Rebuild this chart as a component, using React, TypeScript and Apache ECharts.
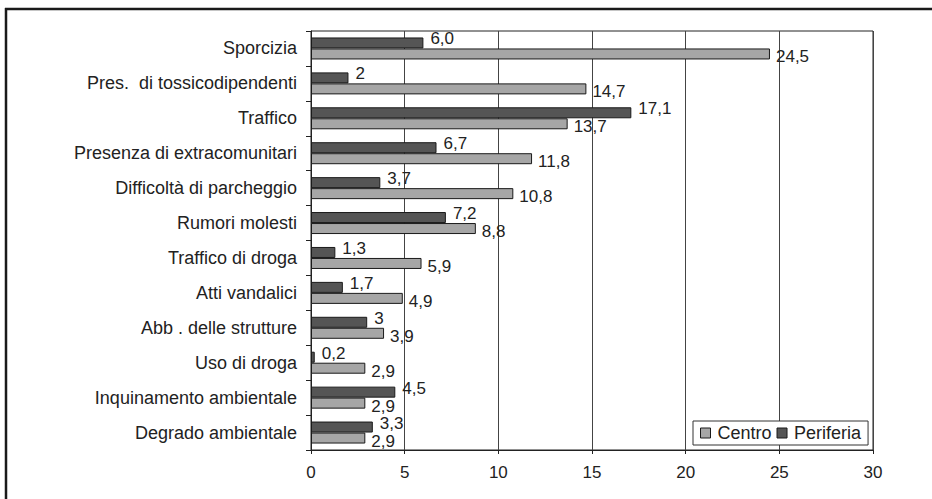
import React, { useEffect, useRef } from "react";
import * as echarts from "echarts";

const categories = [
  "Sporcizia",
  "Pres.  di tossicodipendenti",
  "Traffico",
  "Presenza di extracomunitari",
  "Difficoltà di parcheggio",
  "Rumori molesti",
  "Traffico di droga",
  "Atti vandalici",
  "Abb . delle strutture",
  "Uso di droga",
  "Inquinamento ambientale",
  "Degrado ambientale",
];
const centro = [24.5, 14.7, 13.7, 11.8, 10.8, 8.8, 5.9, 4.9, 3.9, 2.9, 2.9, 2.9];
const periferia = [6.0, 2, 17.1, 6.7, 3.7, 7.2, 1.3, 1.7, 3, 0.2, 4.5, 3.3];
const centroLabels = ["24,5", "14,7", "13,7", "11,8", "10,8", "8,8", "5,9", "4,9", "3,9", "2,9", "2,9", "2,9"];
const periferiaLabels = ["6,0", "2", "17,1", "6,7", "3,7", "7,2", "1,3", "1,7", "3", "0,2", "4,5", "3,3"];
const xTicks = [0, 5, 10, 15, 20, 25, 30];

const FONT = "Liberation Sans";

export default function App() {
  const ref = useRef<HTMLDivElement>(null);
  useEffect(() => {
    const chart = echarts.init(ref.current!, null, { renderer: "svg" });
    chart.setOption({
      animation: false,
      backgroundColor: "#ffffff",
      textStyle: { fontFamily: FONT },
      grid: {
        left: 311,
        right: 59,
        top: 31,
        bottom: 49,
        show: true,
        borderColor: "#222",
        borderWidth: 1,
      },
      legend: {
        data: ["Centro", "Periferia"],
        left: 693,
        top: 421,
        orient: "horizontal",
        backgroundColor: "#fff",
        borderColor: "#333",
        borderWidth: 1,
        padding: [3, 7, 3, 7],
        itemGap: 5,
        itemWidth: 10,
        itemHeight: 10,
        icon: "rect",
        itemStyle: { borderColor: "#1a1a1a", borderWidth: 1 },
        textStyle: { fontFamily: FONT, fontSize: 18, color: "#222", padding: [0, 0, 0, 2] },
      },
      xAxis: {
        type: "value",
        min: xTicks[0],
        max: xTicks[xTicks.length - 1],
        interval: 5,
        axisLine: { show: true, lineStyle: { color: "#222", width: 1 } },
        axisTick: { show: true, length: 4, lineStyle: { color: "#222" } },
        axisLabel: { fontFamily: FONT, fontSize: 17, color: "#222", margin: 14 },
        splitLine: { show: true, lineStyle: { color: "#444", width: 1 } },
      },
      yAxis: {
        type: "category",
        data: categories,
        inverse: true,
        axisLine: { show: true, lineStyle: { color: "#222", width: 1 } },
        axisTick: { show: true, length: 5, lineStyle: { color: "#222" } },
        axisLabel: { fontFamily: FONT, fontSize: 18, color: "#222", margin: 14 },
        splitLine: { show: false },
      },
      series: [
        {
          name: "Periferia",
          type: "bar",
          data: periferia,
          barWidth: 11,
          barGap: "0%",
          itemStyle: { color: "#555555", borderColor: "#1a1a1a", borderWidth: 1 },
          label: {
            show: true,
            position: "right",
            distance: 7,
            offset: [0, -4],
            fontFamily: FONT,
            fontSize: 17,
            color: "#222",
            formatter: (p: any) => periferiaLabels[p.dataIndex],
          },
        },
        {
          name: "Centro",
          type: "bar",
          data: centro,
          barWidth: 11,
          barGap: "0%",
          itemStyle: { color: "#a6a6a6", borderColor: "#1a1a1a", borderWidth: 1 },
          label: {
            show: true,
            position: "right",
            distance: 6,
            offset: [0, 3],
            fontFamily: FONT,
            fontSize: 17,
            color: "#222",
            formatter: (p: any) => centroLabels[p.dataIndex],
          },
        },
      ],
      graphic: [
        { type: "line", shape: { x1: 5, y1: 9, x2: 932, y2: 9 }, style: { stroke: "#1a1a1a", lineWidth: 2.5 } },
        { type: "line", shape: { x1: 6, y1: 8, x2: 6, y2: 499 }, style: { stroke: "#1a1a1a", lineWidth: 2.5 } },
      ],
    });
    return () => chart.dispose();
  }, []);
  return (
    <div style={{ position: "fixed", left: 0, top: 0, width: 932, height: 499, background: "#fff" }}>
      <div ref={ref} style={{ width: 932, height: 499 }} />
    </div>
  );
}
